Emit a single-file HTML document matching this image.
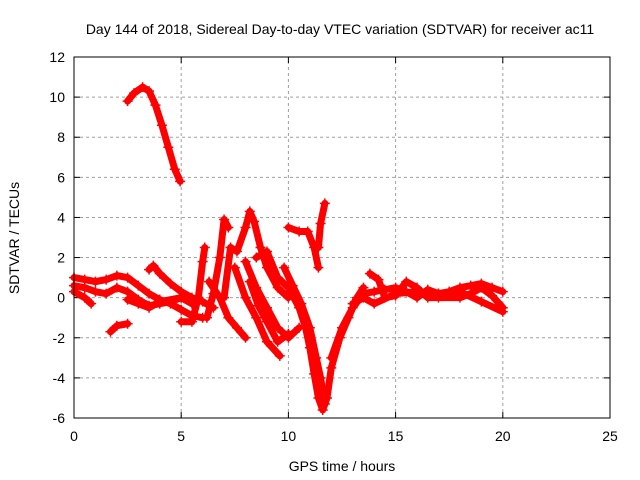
<!DOCTYPE html>
<html><head><meta charset="utf-8"><style>
body{margin:0;background:#fff}
svg{display:block;font-family:"Liberation Sans",sans-serif}
</style></head><body>
<svg id="chart" width="640" height="480">
<text x="340" y="34" font-size="14" text-anchor="middle">Day 144 of 2018, Sidereal Day-to-day VTEC variation (SDTVAR) for receiver ac11</text>
<text x="342" y="471" font-size="14" text-anchor="middle">GPS time / hours</text>
<text transform="translate(19,238) rotate(-90)" font-size="14" text-anchor="middle">SDTVAR / TECUs</text>
<g id="grid"></g><g id="ticks"></g><g id="marks"></g>
<rect x="74" y="57" width="536" height="361" fill="none" stroke="#000" stroke-width="1"/>
</svg>
<script>
const xTicks=[0,5,10,15,20,25];
const yTicks=[-6,-4,-2,0,2,4,6,8,10,12];
const tracks=[
[[2.5,9.8],[2.8,10.2],[3.2,10.5],[3.5,10.3],[3.8,9.6],[4.1,8.6],[4.4,7.5],[4.7,6.4],[4.95,5.8]],
[[0,1.0],[0.5,0.9],[1,0.8],[1.5,0.9],[2,1.1],[2.5,1.0],[3,0.6],[3.5,0.2],[4,-0.1],[4.5,-0.3],[5,-0.6],[5.5,-0.9],[6,-1.0]],
[[0,0.6],[0.5,0.5],[1,0.3],[1.5,0.2],[2,0.5],[2.5,0.3],[3,-0.1],[3.5,-0.4],[4,-0.3],[4.5,-0.2],[5,0.0]],
[[0,0.3],[0.5,0.0],[0.8,-0.3]],
[[1.7,-1.7],[2,-1.4],[2.5,-1.3]],
[[3.5,1.4],[3.7,1.6],[4,1.2],[4.5,0.7],[5,0.3],[5.5,0.0],[6,-0.2],[6.5,-0.5]],
[[2.5,-0.1],[3,-0.3],[3.5,-0.5],[4,-0.2],[5,0.0],[5.5,-0.3]],
[[5,-1.2],[5.5,-1.2],[5.8,0],[6,1.8],[6.1,2.5]],
[[6.2,-1.0],[6.5,0.2],[6.8,2.0],[7,3.9],[7.2,3.5]],
[[7.0,0],[7.3,2.5],[7.6,2.3],[8.0,3.5],[8.2,4.3],[8.4,3.8],[8.7,2.5],[9,1.5],[9.5,0.5],[10,0]],
[[6.3,0.8],[6.8,0],[7.2,-1.0],[7.6,-1.5],[8,-2.0]],
[[8,1.8],[8.5,0.5],[9,-0.5],[9.5,-1.5],[10,-2.0],[10.5,-1.5]],
[[8.2,0.8],[8.6,-0.4],[9.0,-1.2],[9.5,-2.2],[10,-1.8]],
[[7.5,1.5],[8,0],[8.5,-1.0],[9,-2.2],[9.6,-2.9]],
[[8.5,2.0],[9,2.3],[9.5,1.0],[10,0.5],[10.5,-0.5],[10.8,-1.5],[11,-2.5],[11.2,-3.8],[11.4,-5.0],[11.6,-5.6],[11.8,-5.0],[12,-3.5],[12.4,-2.0],[12.8,-1.0],[13.2,0.0],[13.5,0.5]],
[[10,3.5],[10.5,3.3],[10.9,3.3],[11.2,2.5],[11.4,1.5]],
[[11.4,2.5],[11.5,3.7],[11.7,4.7]],
[[9.8,1.5],[10.2,0.6],[10.6,-0.3],[11,-1.5],[11.3,-3],[11.5,-4],[11.7,-5.3]],
[[12,-3],[12.5,-1.5],[13,-0.5],[13.5,0.2],[14,0.3],[14.5,0.4],[15,0.5],[15.5,0.3],[16,0],[16.5,0.4],[17,0.2],[17.5,0.3],[18,0.5],[18.5,0.6],[19,0.7],[19.5,0.5],[20,0.3]],
[[13.8,1.2],[14.2,0.9],[14.5,0.0],[15,0.1],[15.5,0.8],[16,0.5],[16.5,0],[17,0],[18,0.0],[18.5,0.2],[19,0.5],[19.5,0.1],[20,-0.5]],
[[13,-0.3],[13.5,0],[14,-0.3],[15,0.2],[16,0.3],[17,0.2],[18,0.3],[19,-0.2],[20,-0.7]]
];
const NS='http://www.w3.org/2000/svg';
const X0=74,X1=610,Y0=418,Y1=57;
const sx=v=>X0+(v-0)/(25-0)*(X1-X0);
const sy=v=>Y0-(v+6)/(18)*(Y0-Y1);
function mk(tag,at,parent){const e=document.createElementNS(NS,tag);for(const k in at)e.setAttribute(k,at[k]);parent.appendChild(e);return e;}
const grid=document.getElementById('grid'),ticks=document.getElementById('ticks'),marks=document.getElementById('marks');
xTicks.forEach(t=>{const x=sx(t);
 if(t>0&&t<25){const g=mk('line',{x1:x,x2:x,y1:Y0,y2:Y1,stroke:'#a0a0a0','stroke-dasharray':'3,3'},grid);
 
 }
 mk('line',{x1:x,x2:x,y1:Y0,y2:Y0-6,stroke:'#000'},ticks);
 mk('line',{x1:x,x2:x,y1:Y1,y2:Y1+6,stroke:'#000'},ticks);
 const l=mk('text',{x:x,y:Y0+23,'font-size':14,'text-anchor':'middle'},ticks);l.textContent=t;
 
 
});
yTicks.forEach(t=>{const y=sy(t);
 if(t>-6&&t<12){const g=mk('line',{x1:X0,x2:X1,y1:y,y2:y,stroke:'#a0a0a0','stroke-dasharray':'3,3'},grid);
 
 }
 mk('line',{x1:X0,x2:X0+6,y1:y,y2:y,stroke:'#000'},ticks);
 mk('line',{x1:X1,x2:X1-6,y1:y,y2:y,stroke:'#000'},ticks);
 const l=mk('text',{x:X0-9,y:y+5,'font-size':14,'text-anchor':'end'},ticks);l.textContent=t;
 
 
});
tracks.forEach((tr,i)=>{
 const p=mk('polyline',{points:tr.map(d=>sx(d[0])+','+sy(d[1])).join(' '),fill:'none',stroke:'#f00','stroke-width':7,'stroke-linejoin':'round','stroke-linecap':'round'},marks);
 
 
 tr.forEach(d=>{const x=sx(d[0]),y=sy(d[1]);
  const m=mk('path',{d:`M${x-5},${y}H${x+5}M${x},${y-5}V${y+5}`,stroke:'#f00','stroke-width':1.5},marks);
  
  
 });
});
</script>
</body></html>
